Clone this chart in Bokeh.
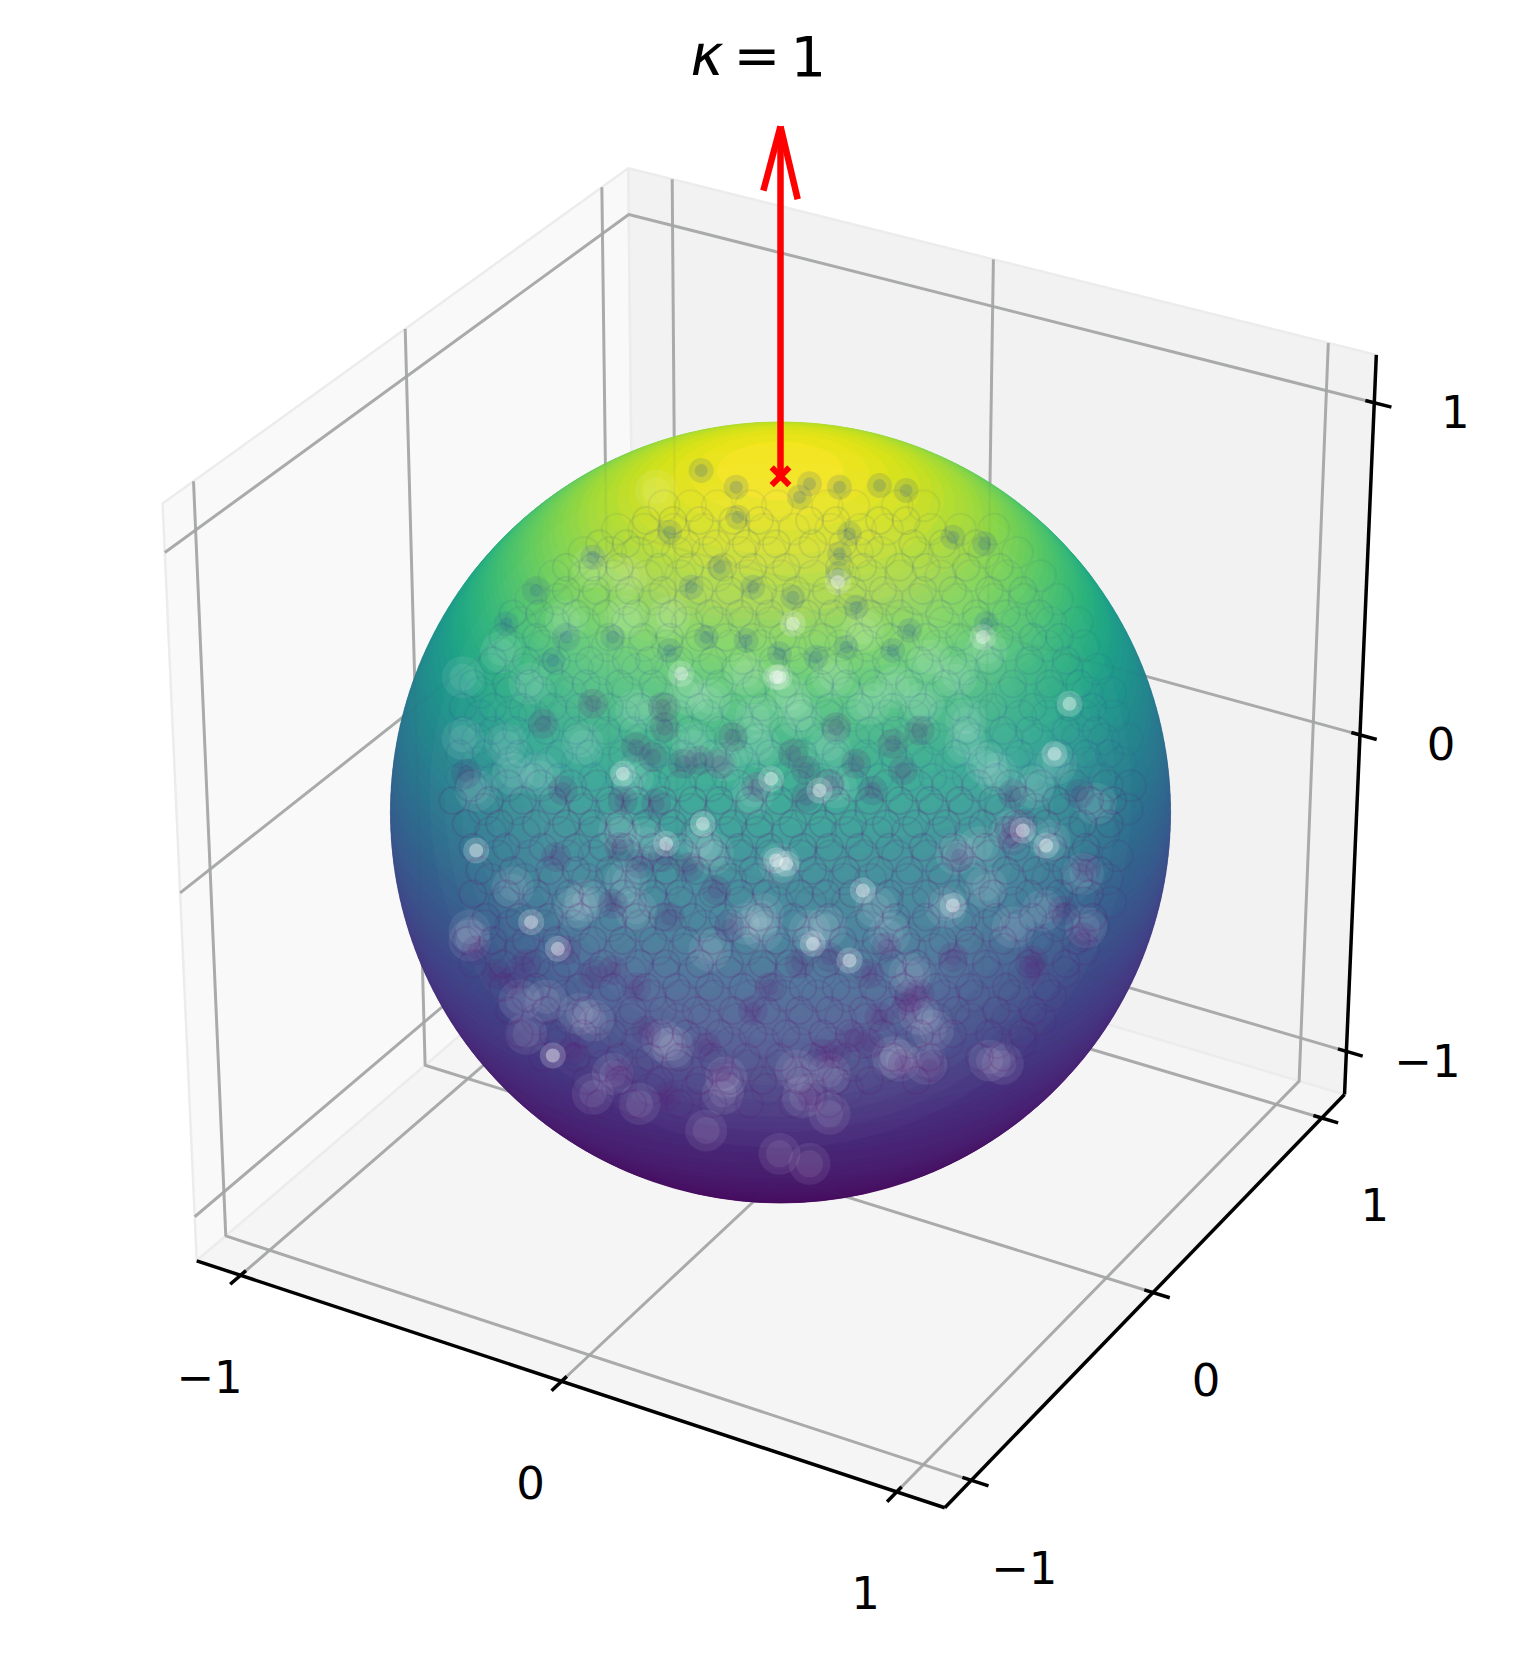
import math
from bokeh.plotting import figure
from bokeh.models import Range1d
from bokeh.core.properties import value
from bokeh.palettes import Viridis256
from bokeh.embed import file_html
from bokeh.resources import INLINE

# ---- chart values -------------------------------------------------------
TICKS = [-1, 0, 1]
TICK_LABELS = ["\u22121", "0", "1"]
TITLE_PARTS = ["\u03ba", "=", "1"]
LIM = 1.14                 # axis limits (+/-)
SPHERE_R = 1.03            # sphere radius including the marker fringe
MEAN_DIR = [0, 0, 1]       # the red cross
ARROW_TIP = [0, 0, 1.99]
ARROW_BARB_X = [-0.05, 0.05]
ARROW_BARB_Z = 1.8

# sphere height and the colour value (0..1) read at that height
band_z = [-1.0,-0.975,-0.95,-0.925,-0.9,-0.875,-0.85,-0.825,-0.8,-0.775,-0.75,-0.725,-0.7,-0.675,-0.65,-0.625,-0.6,-0.575,-0.55,-0.525,-0.5,-0.475,-0.45,-0.425,-0.4,-0.375,-0.35,-0.325,-0.3,-0.275,-0.25,-0.225,-0.2,-0.175,-0.15,-0.125,-0.1,-0.075,-0.05,-0.025,0.0,0.025,0.05,0.075,0.1,0.125,0.15,0.175,0.2,0.225,0.25,0.275,0.3,0.325,0.35,0.375,0.4,0.425,0.45,0.475,0.5,0.525,0.55,0.5625,0.575,0.5875,0.6,0.6125,0.625,0.6375,0.65,0.6625,0.675,0.6875,0.7,0.7125,0.725,0.7375,0.75,0.7625,0.775,0.7875,0.8,0.8125,0.825,0.8375,0.85,0.8625,0.875,0.8875,0.9,0.9125,0.925,0.9375,0.95,0.9625,0.975,0.9875]
band_val = [0.0,0.004,0.008,0.0122,0.0165,0.0208,0.0253,0.03,0.0347,0.0395,0.0444,0.0495,0.0548,0.0601,0.0656,0.0712,0.077,0.0829,0.0889,0.0952,0.1015,0.1081,0.1148,0.1216,0.1287,0.1359,0.1433,0.1509,0.1587,0.1667,0.1748,0.1832,0.1918,0.2007,0.2097,0.219,0.2285,0.2382,0.2482,0.2584,0.2689,0.2797,0.2907,0.3021,0.3137,0.3256,0.3378,0.3503,0.3632,0.3763,0.3898,0.4036,0.4178,0.4323,0.4473,0.4625,0.4782,0.4943,0.5107,0.5277,0.5449,0.5627,0.5809,0.5902,0.5996,0.6091,0.6187,0.6285,0.6383,0.6483,0.6585,0.6687,0.6791,0.6896,0.7002,0.711,0.7219,0.733,0.7442,0.7555,0.767,0.7785,0.7903,0.8022,0.8143,0.8266,0.8389,0.8514,0.8641,0.8769,0.89,0.9031,0.9165,0.93,0.9436,0.9573,0.9715,0.9858]

# Speckles, in a 2400x2400 grid laid over the sphere's bounding box
bright = [(905,790),(1190,800),(730,1090),(1175,1105),(1375,515),(1320,1140),(1810,680),(1240,640),(2070,880),(2025,1030),(1200,800),(290,1320),(1190,1350),(860,1300),(970,1240),(520,1935),(455,1535),(535,1615),(1450,1440),(1300,1600),(1410,1650),(1220,1360),(1930,1260),(1720,1485),(2000,1305)]
pale = [(925,850),(940,1000),(770,900),(740,620),(560,630),(870,620),(610,1000),(380,1000),(400,1090),(250,985),(250,800),(365,725),(450,820),(1100,790),(1130,920),(1140,1010),(1040,1050),(760,1100),(830,240),(740,500),(1120,1150),(290,1140),(640,470),(480,1090),(990,870),(1230,860),(1260,920),(1360,800),(1470,880),(1550,830),(1650,750),(1730,800),(1630,880),(1350,1010),(1760,1000),(1820,1060),(1850,1090),(1960,1130),(1370,1130),(2030,1060),(2150,1180),(1450,660),(1820,720),(1760,930),(400,1430),(590,1490),(620,1470),(420,1770),(500,1770),(440,1870),(640,1830),(700,1990),(640,2050),(850,1890),(880,1910),(1040,2000),(1030,2050),(780,2080),(980,2160),(270,1560),(270,1590),(740,1410),(770,1500),(720,1260),(800,1290),(960,1300),(1000,1330),(1150,1560),(1150,1510),(990,1620),(600,1810),(1100,1540),(1200,1360),(1290,1560),(1340,1550),(1490,1490),(1530,1570),(1590,1690),(1620,1810),(1660,1860),(1540,1940),(1560,1950),(1640,1960),(1350,1990),(1250,1980),(1830,1950),(1870,1960),(1700,1490),(1820,1430),(1730,1330),(1800,1310),(1900,1260),(2010,1290),(2110,1390),(2120,1550),(1990,1500),(1900,1550),(1270,2060),(1350,2110),(1290,2260),(1200,2230)]
purple = [(640,880),(855,950),(820,1040),(490,940),(260,1090),(550,1140),(1060,980),(1020,1060),(910,1060),(730,1170),(850,890),(830,1180),(770,1010),(960,1050),(1130,1130),(1370,950),(1240,1030),(1280,1080),(1430,1060),(1350,1120),(1480,1140),(1540,1000),(1620,960),(1570,1080),(1900,1150),(2100,1150),(1280,1160),(720,1310),(530,1340),(700,1480),(560,1620),(440,1660),(640,1690),(770,1730),(400,1710),(580,1920),(700,1680),(980,1910),(800,1860),(290,1620),(850,1340),(1010,1440),(1050,1550),(1170,1730),(860,2060),(1030,1990),(720,1990),(780,1360),(930,1370),(1120,1800),(870,1520),(350,1690),(1260,1660),(1350,1640),(1470,1690),(1580,1790),(1590,1760),(1330,1930),(1520,1610),(1570,1960),(1650,1970),(1720,1640),(1740,1340),(1930,1240),(1890,1260),(1960,1650),(1960,1680),(2050,1500),(2110,1580),(2120,1370),(1370,1930),(1470,1900),(1900,1290),(1500,1820),(1620,1750),(1300,2060),(1420,1880)]
blue = [(870,365),(640,440),(935,530),(1020,470),(1120,530),(1100,690),(870,720),(980,680),(700,680),(1070,230),(1075,320),(965,180),(470,540),(560,680),(520,750),(380,640),(1500,225),(1410,370),(1375,490),(1380,430),(1240,560),(1380,230),(1580,240),(1290,220),(1200,730),(1310,740),(1400,710),(1590,660),(1820,640),(1815,400),(1720,380),(1430,590),(1540,720),(1260,260)]

ring_up_y = [330,400,470,540,610,680,750,820,890,960,1030,1100]
ring_up_x = [
 [800,880,960,1060,1140,1290,1370,1500,1580],
 [660,740,830,920,1010,1100,1190,1300,1390,1470,1600,1690,1790],
 [560,640,720,840,930,1030,1120,1220,1380,1450,1560,1640,1760,1860],
 [470,560,650,750,850,960,1050,1150,1250,1340,1420,1510,1630,1720,1830,1930],
 [400,480,590,680,770,880,990,1080,1170,1280,1360,1470,1560,1680,1790,1880,1980],
 [370,470,560,690,790,870,960,1040,1120,1210,1330,1440,1530,1640,1740,1860,1960,2040],
 [340,440,530,630,740,810,900,1000,1090,1180,1250,1330,1410,1520,1620,1720,1830,1950,2060],
 [280,380,450,540,620,720,820,930,1020,1130,1220,1320,1400,1480,1590,1700,1780,1900,2010,2100],
 [250,340,430,520,600,690,780,860,960,1060,1150,1260,1350,1440,1540,1630,1740,1840,1960,2070,2140],
 [250,340,410,500,590,680,760,840,930,1020,1110,1210,1290,1370,1470,1550,1640,1760,1870,1950,2060,2150],
 [240,320,420,540,630,730,830,910,1000,1080,1170,1270,1370,1460,1540,1620,1730,1830,1920,2040,2120,2190],
 [240,340,460,540,640,720,800,880,970,1040,1130,1220,1320,1410,1500,1590,1660,1760,1850,1960,2070,2170],
]
ring_low_y = [1170,1240,1310,1380,1450,1520,1590,1660,1730,1800,1870,1940,2010,2080]
ring_low_x = [
 [220,330,430,520,600,690,770,850,940,1020,1110,1200,1290,1370,1470,1560,1650,1740,1840,1930,2030,2130,2200],
 [260,360,470,560,640,720,800,880,970,1060,1140,1240,1330,1420,1520,1610,1700,1810,1910,2000,2110,2190],
 [280,380,490,590,670,740,820,900,990,1080,1170,1270,1350,1440,1530,1630,1720,1820,1910,2020,2120],
 [300,400,510,590,690,780,860,950,1030,1120,1210,1300,1400,1500,1590,1680,1780,1880,1970,2060,2160],
 [280,380,470,570,640,730,820,900,1000,1080,1160,1260,1340,1420,1530,1640,1730,1840,1950,2040,2130],
 [320,420,510,600,700,770,850,940,1030,1140,1240,1350,1470,1550,1640,1760,1850,1960,2060,2140],
 [260,340,440,530,640,730,820,920,1000,1100,1190,1280,1390,1490,1580,1690,1770,1870,1980,2090],
 [280,370,470,560,670,780,860,960,1050,1150,1230,1340,1440,1540,1610,1720,1820,1950,2060],
 [370,470,600,700,800,890,990,1090,1180,1270,1370,1480,1570,1670,1770,1880,2000],
 [390,500,620,760,850,950,1060,1160,1260,1350,1450,1540,1640,1730,1850,1960],
 [420,520,610,700,840,920,1020,1120,1220,1330,1410,1510,1620,1720,1830,1930],
 [490,590,720,810,900,1000,1100,1200,1300,1400,1540,1650,1800,1870],
 [620,720,840,960,1050,1150,1260,1370,1470,1610],
 [660,760,900,1000,1110,1240,1350],
]

# ---- projection (elev 30, azim -60, perspective) ------------------------
BOX_H = 0.558
DIST = 10.0
U = (0.8660254, 0.5, 0.0)
V = (-0.25, 0.4330127, 0.8660254)
W = (0.4330127, -0.75, 0.5)
PX = 773.7  # picture pixels per projected unit
CX, CY = 780.0, 812.0

def dot(a, b):
    return a[0]*b[0] + a[1]*b[1] + a[2]*b[2]

def proj(p):
    q = [c * BOX_H / LIM for c in p]
    f = 1.0 / (1.0 - dot(q, W) / DIST)
    return dot(q, U) * f, dot(q, V) * f

def pxx(x): return (x - CX) / PX
def pxy(y): return (CY - y) / PX

p = figure(width=1507, height=1641, output_backend="svg", toolbar_location=None,
           x_range=Range1d(pxx(0), pxx(1507)), y_range=Range1d(pxy(1641), pxy(0)),
           min_border=0, outline_line_color=None, background_fill_color="white",
           border_fill_color="white")
p.axis.visible = False
p.grid.visible = False

L = LIM
def poly(corners, color):
    pts = [proj(c) for c in corners]
    xs = [a for a, _ in pts]; ys = [b for _, b in pts]
    p.patch(xs, ys, fill_color=color, line_color="#ececec", line_width=2.5)

poly([(-L,-L,-L),(-L,-L,L),(-L,L,L),(-L,L,-L)], "#f9f9f9")
poly([(-L,L,-L),(-L,L,L),(L,L,L),(L,L,-L)], "#f2f2f2")
poly([(-L,-L,-L),(L,-L,-L),(L,L,-L),(-L,L,-L)], "#f5f5f5")

grid_xs, grid_ys = [], []
def polyline(points):
    pts = [proj(c) for c in points]
    grid_xs.append([a for a, _ in pts]); grid_ys.append([b for _, b in pts])
for t in TICKS:
    polyline([(t,-L,-L),(t,L,-L),(t,L,L)])
    polyline([(L,t,-L),(-L,t,-L),(-L,t,L)])
    polyline([(-L,-L,t),(-L,L,t),(L,L,t)])
p.multi_line(grid_xs, grid_ys, line_color="#b0b0b0", line_width=3)

# axes and ticks
def seg(a, b, lw=3.5):
    (x0, y0), (x1, y1) = proj(a), proj(b)
    p.line([x0, x1], [y0, y1], line_color="black", line_width=lw)
seg((-L,-L,-L),(L,-L,-L))
seg((L,-L,-L),(L,L,-L))
seg((L,L,-L),(L,L,L))
OUT, IN = 0.05, 0.026
lab_x, lab_y, lab_t = [], [], []
for t, lbl in zip(TICKS, TICK_LABELS):
    seg((t,-L-OUT,-L),(t,-L+IN,-L))
    seg((L+OUT,t,-L),(L-IN,t,-L))
    seg((L-IN,L,t),(L+OUT,L,t))
    for pt, dx, dy in (((t,-L,-L),-31,-101),((L,t,-L),53,-87),((L,L,t),81,-9)):
        a, b = proj(pt)
        lab_x.append(a + dx/PX); lab_y.append(b + dy/PX); lab_t.append(lbl)
p.text(lab_x, lab_y, text=lab_t, text_font=value("DejaVu Sans"), text_font_size="45px",
       text_align="center", text_baseline="middle", text_color="black")

# sphere body: stacked latitude discs, lowest first, so the front surface shows
ex, ey, ew, eh, ec = [], [], [], [], []
for z, val in zip(band_z, band_val):
    rr = SPHERE_R * math.sqrt(max(0.0, 1 - z*z))
    zz = SPHERE_R * z
    a0 = proj((U[0]*rr, U[1]*rr, zz)); a1 = proj((-U[0]*rr, -U[1]*rr, zz))
    b0 = proj((0.5*rr, -0.8660254*rr, zz)); b1 = proj((-0.5*rr, 0.8660254*rr, zz))
    ex.append((a0[0]+a1[0])/2); ey.append((b0[1]+b1[1])/2)
    ew.append(abs(a0[0]-a1[0])); eh.append(abs(b0[1]-b1[1]))
    ec.append(Viridis256[min(255, int(val*255))])
p.ellipse(ex, ey, width=ew, height=eh, fill_color=ec, line_color=ec, line_width=0.5)

# speckle
SPH = 390.0 / PX
def plane(points):
    return ([(g[0]-1203)/1170*SPH for g in points], [(1206-g[1])/1170*SPH for g in points])
def rows(ys, xss):
    return plane([(x, y) for y, xs in zip(ys, xss) for x in xs])
def soft(points, color, levels):
    x, y = plane(points)
    for sz, al in levels:
        p.scatter(x, y, size=sz, marker="circle", fill_color=color, fill_alpha=al, line_color=None)

for rad in (0.9, 0.86, 0.82, 0.78, 0.74, 0.7, 0.66, 0.62):
    p.ellipse([0], [0.02], width=2*rad*SPH, height=2*rad*SPH, fill_color="white", fill_alpha=0.022, line_color=None)
soft(pale, "white", ((42, 0.08), (27, 0.08)))
soft(purple, "#5a1c78", ((30, 0.14), (17, 0.14)))
soft(blue, "#2f5f96", ((25, 0.16), (13, 0.2)))
for ys, xs, col, al in ((ring_up_y, ring_up_x, "#2f4b8f", 0.11), (ring_low_y, ring_low_x, "#5c1a72", 0.16)):
    x, y = rows(ys, xs)
    p.scatter(x, y, size=27, marker="circle", fill_color=None, line_color=col, line_alpha=al, line_width=2)
    p.scatter([a + 0.023 for a in x], [b + 0.019 for b in y], size=31, marker="circle",
              fill_color=None, line_color=col, line_alpha=al*0.7, line_width=2)
soft(bright, "white", ((26, 0.2), (14, 0.38)))

p.multi_line(grid_xs, grid_ys, line_color="#40505a", line_alpha=0.06, line_width=2.6)

# red arrow
base = proj(MEAN_DIR); tip = proj(ARROW_TIP)
p.line([base[0], tip[0]], [base[1], tip[1]], line_color="red", line_width=6.5)
for bx in ARROW_BARB_X:
    q = proj((bx, 0, ARROW_BARB_Z))
    p.line([q[0], tip[0]], [q[1], tip[1]], line_color="red", line_width=6.5)
p.scatter([base[0]], [base[1]], marker="x", size=25, line_color="red", line_width=6)

# title
for part, left, style in zip(TITLE_PARTS, (690, 733, 790), ("italic", "normal", "normal")):
    p.text([pxx(left)], [pxy(55)], text=[part], text_font=value("DejaVu Sans"), text_font_style=style,
           text_font_size="56px", text_align="left", text_baseline="alphabetic", text_color="black")

open("out.html", "w").write(file_html(p, INLINE))
